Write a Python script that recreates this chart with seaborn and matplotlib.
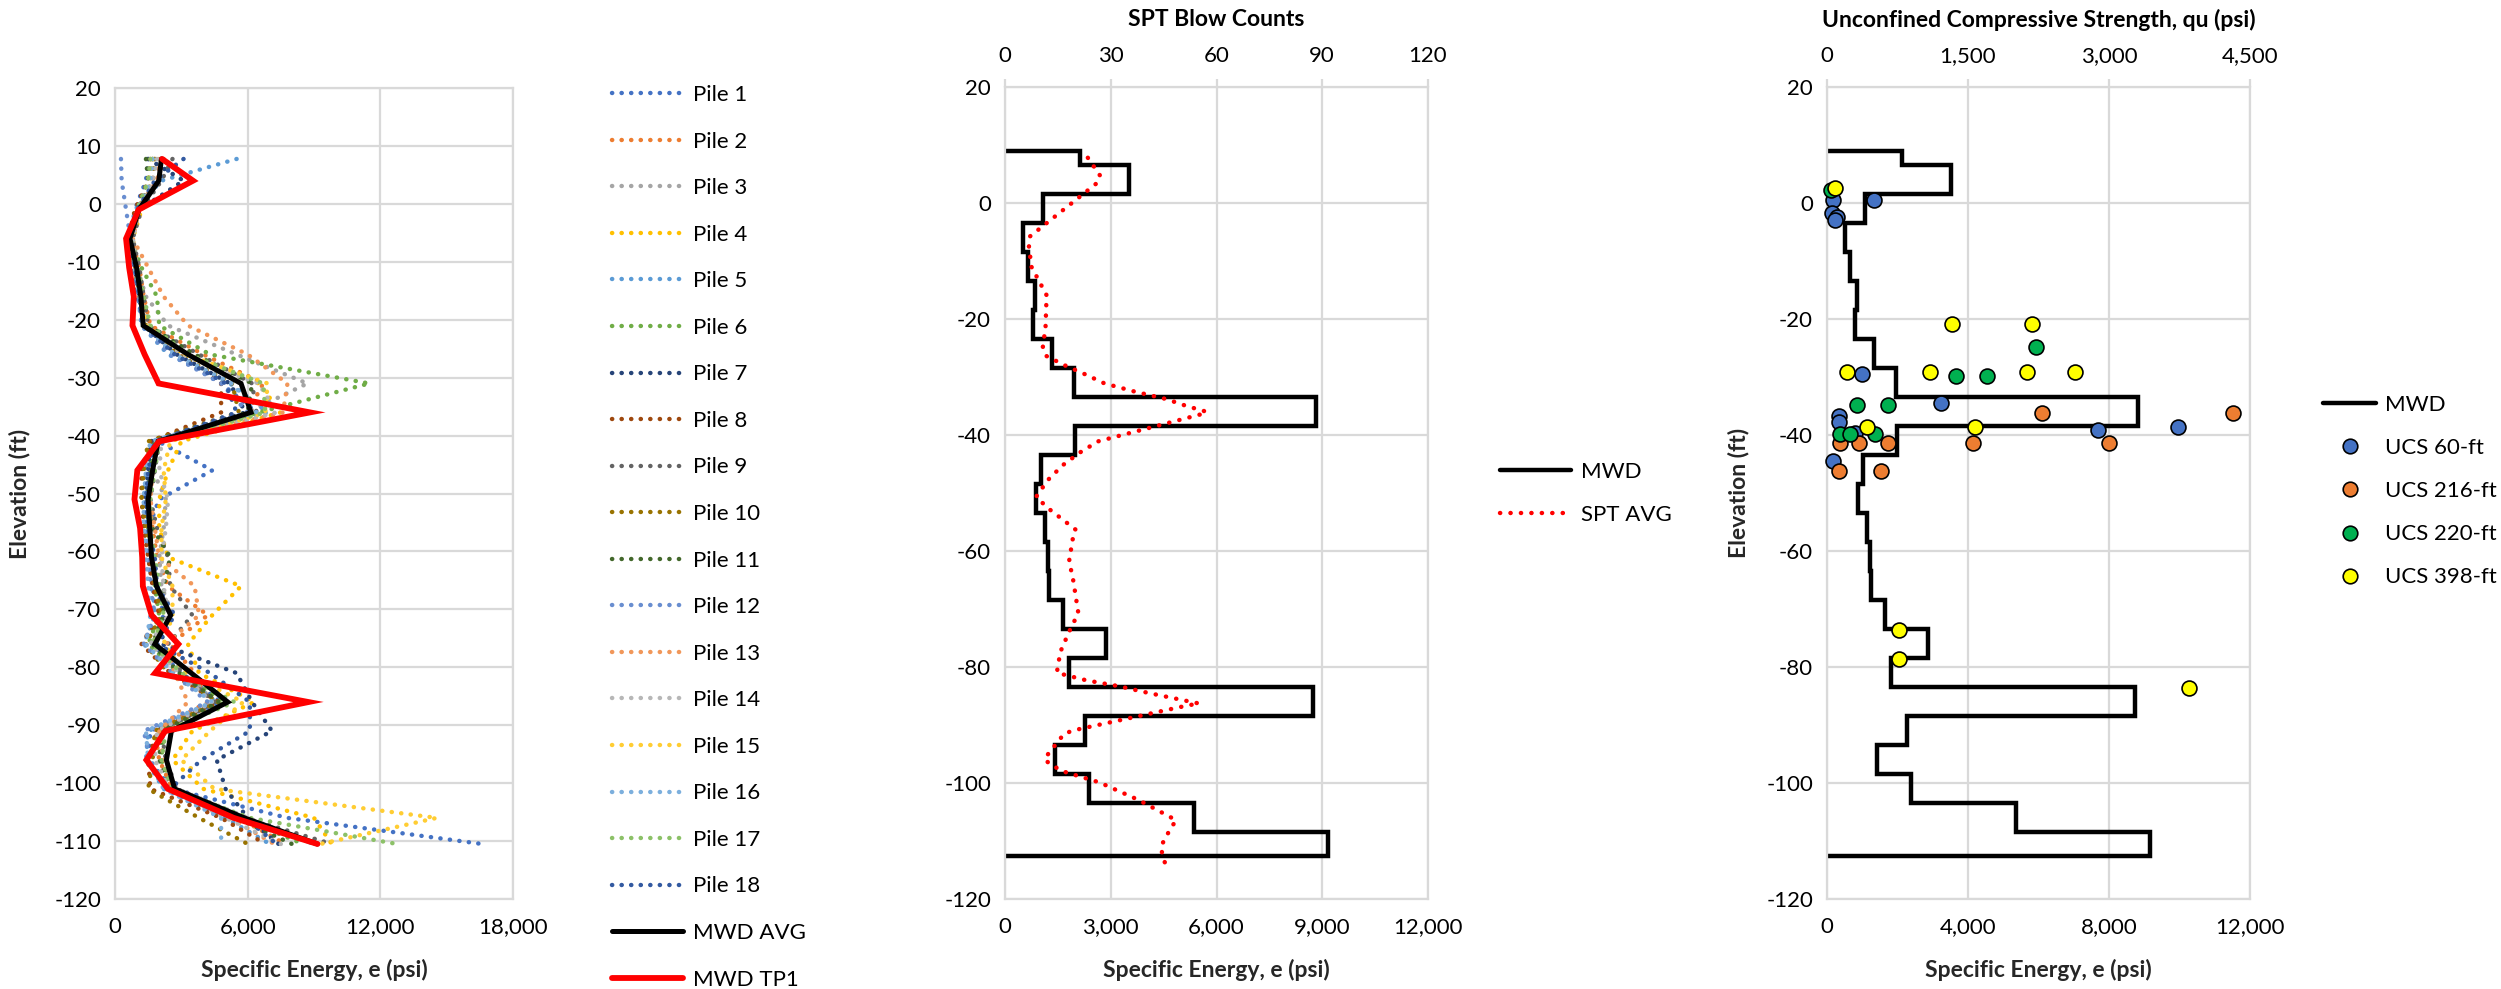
import numpy as np
import pandas as pd
import matplotlib
matplotlib.use("Agg")
import matplotlib.pyplot as plt
from matplotlib.ticker import FuncFormatter, MultipleLocator
from matplotlib.lines import Line2D
import seaborn as sns

# ---------------------------------------------------------------- data
# elevation (ft) of each averaged MWD interval (mid-depth)
ELEV = [7.75, 4, -1, -6, -11, -16, -21, -26, -31, -36, -41, -46, -51, -56,
        -61, -66, -71, -76, -81, -86, -91, -96, -101, -106, -110.5]

# interval boundaries of the MWD test-pile log
TP1_EDGES = [9.0, 6.5, 1.5, -3.5, -8.5, -13.5, -18.5, -23.5, -28.5, -33.5,
             -38.5, -43.5, -48.5, -53.5, -58.5, -63.5, -68.5, -73.5, -78.5,
             -83.5, -88.5, -93.5, -98.5, -103.5, -108.5, -112.5]

# specific energy, e (psi)
MWD_TP1 = [2130, 3530, 1070, 500, 640, 850, 790, 1340, 1970, 8820, 1990, 1010,
           880, 1135, 1230, 1260, 1655, 2865, 1815, 8750, 2270, 1420, 2395,
           5370, 9155]
MWD_AVG = [2100, 1980, 1080, 675, 975, 1170, 1275, 3300, 5700, 6150, 1950,
           1700, 1500, 1575, 1650, 1875, 2520, 1800, 3450, 5100, 2550, 2325,
           2700, 5850, 9150]

PILE_1 = [1500, 1400, 900, 700, 800, 1000, 1300, 2600, 4800, 6400, 1950, 4400, 2000, 1500, 1600, 1900, 2200, 1700, 3000, 4800, 1600, 1500, 2600, 7800, 16600]
PILE_2 = [2200, 1900, 1000, 750, 1100, 1300, 1600, 4000, 6700, 6000, 2000, 1600, 1500, 1700, 1900, 2400, 4200, 2500, 3600, 4200, 1800, 2000, 2600, 5600, 7700]
PILE_3 = [1800, 1700, 1100, 800, 1000, 1400, 2400, 5500, 8700, 6000, 1800, 1700, 2300, 2200, 2000, 2100, 2600, 1600, 3200, 4500, 2000, 2100, 2800, 6000, 9000]
PILE_4 = [1700, 1600, 1200, 800, 1000, 1300, 1500, 3000, 6500, 7500, 3000, 2400, 2000, 2000, 2400, 5700, 4400, 3300, 3800, 6300, 3500, 2600, 4000, 9000, 9800]
PILE_5 = [5500, 2100, 900, 650, 850, 1050, 1200, 2400, 5200, 6900, 1700, 1400, 1300, 1400, 1500, 1700, 1800, 1300, 2700, 4600, 1500, 1400, 2200, 5000, 7000]
PILE_6 = [1700, 1500, 1000, 700, 1200, 1900, 2000, 4300, 11500, 6500, 1700, 1600, 1500, 1500, 1700, 1800, 2000, 1500, 2900, 5000, 2200, 2100, 2700, 5700, 8500]
PILE_7 = [1500, 3100, 1100, 600, 900, 1100, 1300, 2800, 5200, 5900, 1600, 1500, 1400, 1500, 1700, 1700, 2300, 2100, 5500, 6200, 7100, 4600, 5000, 6000, 7400]
PILE_8 = [1600, 1500, 900, 600, 900, 1100, 1400, 2900, 4800, 4800, 1600, 1200, 1200, 1300, 1500, 1700, 2000, 1200, 2500, 4700, 1900, 1500, 1600, 4800, 6800]
PILE_9 = [2600, 2100, 1200, 800, 1100, 1300, 1500, 3800, 6200, 6400, 2000, 1800, 1600, 1900, 2400, 2500, 3500, 2400, 3000, 4500, 2100, 2300, 2800, 5900, 9800]
PILE_10 = [1800, 1700, 1000, 700, 900, 1100, 1400, 2800, 5300, 5600, 1500, 1300, 1200, 1400, 1700, 1800, 2100, 1400, 2400, 4700, 1800, 1700, 1500, 3800, 6000]
PILE_11 = [1400, 1500, 1000, 700, 1000, 1300, 1500, 3600, 6200, 6000, 1800, 1600, 1400, 1700, 2500, 2200, 2200, 1700, 2900, 4700, 2100, 2000, 2500, 5500, 8000]
PILE_12 = [270, 300, 500, 700, 900, 1100, 1200, 2500, 4800, 6000, 1700, 1500, 1300, 1400, 1500, 1600, 1800, 1300, 2600, 4200, 1300, 1600, 2400, 5800, 9000]
PILE_13 = [2000, 1900, 1100, 800, 1500, 2200, 3300, 6000, 7800, 7600, 1900, 1700, 1600, 1800, 2000, 3600, 3800, 2300, 2700, 3300, 2000, 2200, 2600, 5200, 7200]
PILE_14 = [1900, 1700, 1100, 800, 1000, 1200, 1500, 3000, 6500, 7300, 2100, 2000, 2400, 2300, 2100, 2200, 2400, 1600, 2900, 4400, 1900, 1800, 2500, 5000, 7500]
PILE_15 = [1700, 1500, 1100, 700, 900, 1200, 1400, 3200, 6900, 6800, 2500, 2200, 2300, 2100, 2100, 2600, 2600, 2200, 3200, 5800, 4300, 3000, 4500, 14550, 9300]
PILE_16 = [1700, 1600, 1000, 700, 900, 1100, 1300, 2700, 5300, 6400, 1600, 1400, 1300, 1300, 1400, 1500, 1600, 1400, 2600, 4400, 1400, 1500, 2200, 4800, 4800]
PILE_17 = [1600, 1500, 1000, 700, 1000, 1300, 1600, 3300, 6700, 6800, 2000, 1800, 1600, 1600, 1800, 2000, 2200, 1700, 3000, 5400, 2300, 2100, 2600, 6100, 12750]
PILE_18 = [3100, 1800, 1000, 700, 900, 1100, 1300, 2700, 5000, 5500, 1800, 1500, 1400, 1500, 1800, 1900, 2700, 1900, 4300, 6100, 6100, 3900, 2500, 5900, 7300]

PILES = [PILE_1, PILE_2, PILE_3, PILE_4, PILE_5, PILE_6, PILE_7, PILE_8, PILE_9,
         PILE_10, PILE_11, PILE_12, PILE_13, PILE_14, PILE_15, PILE_16,
         PILE_17, PILE_18]
PILE_NAMES = [f"Pile {i}" for i in range(1, 19)]
PILE_COLORS = ["#4472C4", "#ED7D31", "#A5A5A5", "#FFC000", "#5B9BD5", "#70AD47",
               "#264478", "#9E480E", "#636363", "#997300", "#43682B", "#698ED0",
               "#F1975A", "#B7B7B7", "#FFCD33", "#7CAFDD", "#8CC168", "#335AA1"]

# SPT blow counts (average profile)
SPT_ELEV = [7.8, 4.7, 3.4, -5.75, -7.5, -11, -15.9, -21.4, -25, -26.4, -28,
            -29.5, -31.1, -32.5, -33.8, -35, -36, -36.4, -41.1, -43, -45.2,
            -47.8, -50.7, -52.9, -56.3, -58, -61.7, -65.2, -70.7, -73.9, -77.4,
            -81.0, -82.3, -83.3, -84.5, -86.3, -86.6, -90.9, -91.5, -95.8,
            -96.7, -98.0, -99.9, -102.9, -106.4, -109.5, -111.1, -112.9, -114.7]
SPT_N = [23.5, 27.0, 26.0, 7.1, 6.8, 7.5, 11.8, 11.5, 10.7, 11.8, 17.0,
         22.6, 28.2, 36.7, 45.7, 51.5, 57.2, 55.8, 26.4, 21.3, 16.4,
         12.1, 8.8, 12.8, 20.0, 19.2, 18.2, 19.4, 20.8, 18.2, 15.7,
         14.7, 23.1, 32.2, 40.9, 55.1, 52.0, 19.6, 16.8, 11.2,
         12.6, 16.5, 26.8, 37.8, 48.5, 45.4, 44.2, 44.9, 45.9]

# unconfined compressive strength, qu (psi), by boring
UCS60_QU = [67, 50, 103, 85, 500, 369, 1209, 124, 124, 300, 2880, 3738, 60]
UCS60_EL = [0.5, -1.8, -2.35, -2.9, 0.6, -29.4, -34.4, -36.8, -37.7, -39.6, -39.1, -38.6, -44.4]
UCS216_QU = [2284, 142, 337, 652, 1557, 2997, 131, 574, 4322]
UCS216_EL = [-36.2, -41.4, -41.3, -41.3, -41.3, -41.3, -46.2, -46.2, -36.2]
UCS220_QU = [46, 2223, 1372, 1699, 323, 645, 142, 248, 507]
UCS220_EL = [2.2, -24.9, -29.9, -29.9, -34.9, -34.9, -39.9, -39.9, -39.9]
UCS398_QU = [82, 1333, 2184, 209, 1095, 2124, 2638, 422, 1574, 769, 769, 3851]
UCS398_EL = [2.6, -20.9, -20.9, -29.1, -29.1, -29.1, -29.1, -38.6, -38.6, -73.6, -78.6, -83.6]
UCS_COLORS = {"UCS 60-ft": "#4472C4", "UCS 216-ft": "#ED7D31",
              "UCS 220-ft": "#00B050", "UCS 398-ft": "#FFFF00"}

# ---------------------------------------------------------------- style
sns.set_style("white")
plt.rcParams["font.family"] = ["Lato", "DejaVu Sans"]
plt.rcParams["axes.unicode_minus"] = False
plt.rcParams["text.color"] = "black"

W, H = 2501, 989
fig = plt.figure(figsize=(W / 100, H / 100), dpi=100)
fig.patch.set_facecolor("white")


def box(x0, x1, yt, yb):
    return [x0 / W, 1 - yb / H, (x1 - x0) / W, (yb - yt) / H]


GRID = "#D9D9D9"
TICK_FS = 16
LEG_FS = 16
LABEL_FS = 16.5
DOT = (0, (0.05, 2.1))
SPT_DOT = (0, (0.05, 2.3))
thousands = FuncFormatter(lambda v, p: f"{v:,.0f}")


def frame(ax, xmax, xstep, ystep):
    ax.set_xlim(0, xmax)
    ax.set_ylim(-120, 20)
    ax.xaxis.set_major_locator(MultipleLocator(xstep))
    ax.yaxis.set_major_locator(MultipleLocator(ystep))
    ax.xaxis.set_major_formatter(thousands)
    ax.set_axisbelow(True)
    ax.grid(True, color=GRID, lw=1.6)
    for s in ax.spines.values():
        s.set_color(GRID)
        s.set_linewidth(1.6)
    ax.tick_params(axis="both", length=0, labelsize=TICK_FS, colors="black")
    ax.tick_params(axis="x", pad=13)
    ax.tick_params(axis="y", pad=10)
    ax.set_facecolor("white")


def top_axis(ax, xmax, xstep):
    t = ax.twiny()
    t.set_xlim(0, xmax)
    t.xaxis.set_major_locator(MultipleLocator(xstep))
    t.xaxis.set_major_formatter(thousands)
    t.tick_params(axis="x", direction="out", length=6, width=1.6, color=GRID,
                  labelsize=TICK_FS, pad=9, labelcolor="black")
    for s in t.spines.values():
        s.set_visible(False)
    t.grid(False)
    return t


def xlabel(ax, text):
    ax.set_xlabel(text, fontsize=LABEL_FS, fontweight="bold")
    ax.xaxis.set_label_coords(0.5, -0.087)
    ax.xaxis.label.set_va("center")


def ylabel(ax, text, xpos):
    ax.set_ylabel(text, fontsize=LABEL_FS, fontweight="bold")
    ax.yaxis.set_label_coords(xpos, 0.5)
    ax.yaxis.label.set_va("center")


# ---------------------------------------------------------------- left: all piles
axL = fig.add_axes(box(115, 513, 88, 899))
frame(axL, 18000, 6000, 10)

piles_long = pd.DataFrame({
    "pile": np.repeat(PILE_NAMES, len(ELEV)),
    "elev": np.tile(ELEV, len(PILES)),
    "se": np.concatenate(PILES),
})
sns.lineplot(data=piles_long, x="se", y="elev", hue="pile",
             palette=dict(zip(PILE_NAMES, PILE_COLORS)), hue_order=PILE_NAMES,
             sort=False, estimator=None, legend=False, ax=axL,
             lw=3.2, linestyle=DOT, dash_capstyle="round")
for ln in axL.get_lines():
    ln.set_linestyle(DOT)
    ln.set_dash_capstyle("round")

sns.lineplot(x=MWD_AVG, y=ELEV, sort=False, estimator=None, color="black",
             lw=3.6, ax=axL, solid_joinstyle="miter")
sns.lineplot(x=MWD_TP1, y=ELEV, sort=False, estimator=None, color="#FF0000",
             lw=4.2, ax=axL, solid_joinstyle="miter")
xlabel(axL, "Specific Energy, e (psi)")
ylabel(axL, "Elevation (ft)", -0.24)

left_handles = [Line2D([], [], color=c, lw=3.2, linestyle=DOT,
                       dash_capstyle="round") for c in PILE_COLORS]
left_handles += [Line2D([], [], color="black", lw=3.6),
                 Line2D([], [], color="#FF0000", lw=4.2)]
fig.legend(left_handles, PILE_NAMES + ["MWD AVG", "MWD TP1"],
           loc="upper left", bbox_to_anchor=(612 / W, 1 - 85 / H),
           frameon=False, fontsize=LEG_FS, handlelength=3.2,
           handletextpad=0.45, labelspacing=1.195, borderpad=0, borderaxespad=0)

# ---------------------------------------------------------------- middle: SPT
axM = fig.add_axes(box(1005, 1428, 87, 899))
frame(axM, 12000, 3000, 20)
axM.stairs(MWD_TP1[::-1], TP1_EDGES[::-1], orientation="horizontal",
           baseline=0, color="black", lw=3.2)
axMt = top_axis(axM, 120, 30)
sns.lineplot(x=SPT_N, y=SPT_ELEV, sort=False, estimator=None, color="#FF0000",
             lw=3.2, linestyle=SPT_DOT, dash_capstyle="round", ax=axMt)
for ln in axMt.get_lines():
    ln.set_linestyle(SPT_DOT)
    ln.set_dash_capstyle("round")
axMt.set_xlim(0, 120)
axM.set_ylim(-120, 20)
xlabel(axM, "Specific Energy, e (psi)")
axM.set_ylabel("")
fig.text((1005 + 1428) / 2 / W, 1 - 20 / H, "SPT Blow Counts",
         ha="center", va="center", fontsize=LABEL_FS, fontweight="bold")

mid_handles = [Line2D([], [], color="black", lw=3.2),
               Line2D([], [], color="#FF0000", lw=3.2,
                      linestyle=SPT_DOT, dash_capstyle="round")]
fig.legend(mid_handles, ["MWD", "SPT AVG"], loc="upper left",
           bbox_to_anchor=(1500 / W, 1 - 462 / H), frameon=False,
           fontsize=LEG_FS, handlelength=3.2, handletextpad=0.45,
           labelspacing=1.04, borderpad=0, borderaxespad=0)

# ---------------------------------------------------------------- right: UCS
axR = fig.add_axes(box(1827, 2250, 87, 899))
frame(axR, 12000, 4000, 20)
axR.stairs(MWD_TP1[::-1], TP1_EDGES[::-1], orientation="horizontal",
           baseline=0, color="black", lw=3.2)
axRt = top_axis(axR, 4500, 1500)
ucs = pd.DataFrame({
    "qu": UCS60_QU + UCS216_QU + UCS220_QU + UCS398_QU,
    "elev": UCS60_EL + UCS216_EL + UCS220_EL + UCS398_EL,
    "set": (["UCS 60-ft"] * len(UCS60_QU) + ["UCS 216-ft"] * len(UCS216_QU)
            + ["UCS 220-ft"] * len(UCS220_QU) + ["UCS 398-ft"] * len(UCS398_QU)),
})
for name, grp in ucs.groupby("set", sort=False):
    sns.scatterplot(data=grp, x="qu", y="elev", color=UCS_COLORS[name],
                    s=115, edgecolor="black", linewidth=1.2, ax=axRt,
                    legend=False, zorder=3, clip_on=False)
axRt.set_xlim(0, 4500)
axRt.set_xlabel("")
axRt.set_ylabel("")
axR.set_ylim(-120, 20)
xlabel(axR, "Specific Energy, e (psi)")
ylabel(axR, "Elevation (ft)", -0.21)
fig.text((1827 + 2250) / 2 / W, 1 - 20 / H,
         "Unconfined Compressive Strength, qu (psi)",
         ha="center", va="center", fontsize=LABEL_FS, fontweight="bold")

right_handles = [Line2D([], [], color="black", lw=3.2)]
right_handles += [Line2D([], [], color=c, marker="o", markersize=10.5,
                         markeredgecolor="black", markeredgewidth=1.2,
                         linestyle="none") for c in UCS_COLORS.values()]
fig.legend(right_handles, ["MWD"] + list(UCS_COLORS.keys()), loc="upper left",
           bbox_to_anchor=(2323 / W, 1 - 395 / H), frameon=False,
           fontsize=LEG_FS, handlelength=2.4, handletextpad=0.4,
           labelspacing=1.04, borderpad=0, borderaxespad=0)

fig.savefig("out.png", dpi=100, facecolor="white")
